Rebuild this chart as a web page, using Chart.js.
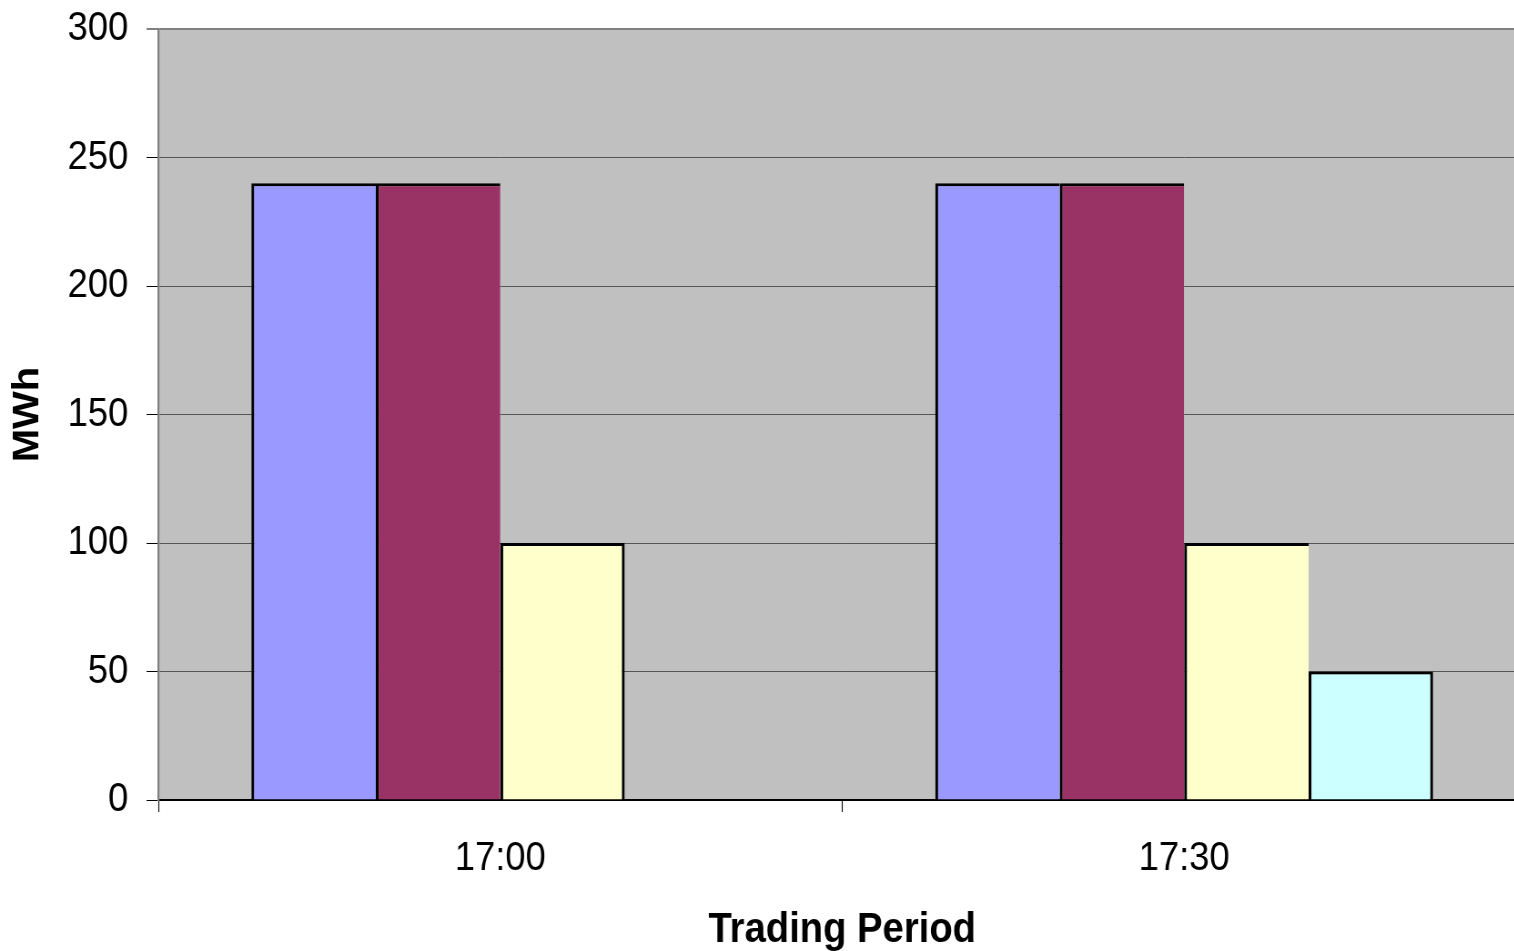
<!DOCTYPE html>
<html>
<head>
<meta charset="utf-8">
<title>MWh by Trading Period</title>
<script src="https://cdn.jsdelivr.net/npm/chart.js@4.4.1/dist/chart.umd.min.js"></script>
<style>
  html, body { margin: 0; padding: 0; background: #ffffff; overflow: hidden; }
  /* the chart is drawn wide and narrowed horizontally, giving the condensed lettering */
  #wrap { width: 1677px; height: 951px; transform: scaleX(0.91); transform-origin: 0 0; }
  canvas { display: block; }
</style>
</head>
<body>
<div id="wrap">
<canvas id="chart" width="1677" height="951" style="width:1677px;height:951px"></canvas>
</div>
<script>
// Trading periods and the four MWh series
const periods = ['17:00', '17:30'];
const series1 = [240, 240];
const series2 = [240, 240];
const series3 = [100, 100];
const series4 = [null, 50];
const yTicks = [0, 50, 100, 150, 200, 250, 300];

const seriesList = [
  { label: 'Series 1', data: series1, color: '#9999FF' },
  { label: 'Series 2', data: series2, color: '#993366' },
  { label: 'Series 3', data: series3, color: '#FFFFCC' },
  { label: 'Series 4', data: series4, color: '#CCFFFF' }
];

// Neighbouring bars share one border: a bar draws its right edge only
// when there is no bar right after it in the same group.
function barBorder(ctx) {
  const next = seriesList[ctx.datasetIndex + 1];
  const hasNext = next && next.data[ctx.dataIndex] != null;
  return { top: 3, left: 3.2, bottom: 0, right: hasNext ? 0 : 3.2 };
}

const plotBackground = {
  id: 'plotBackground',
  beforeDraw(chart) {
    const { ctx, chartArea: a } = chart;
    ctx.save();
    ctx.fillStyle = '#ffffff';
    ctx.fillRect(0, 0, chart.width, chart.height);
    ctx.fillStyle = '#C0C0C0';
    ctx.fillRect(a.left, a.top, a.right - a.left, a.bottom - a.top);
    ctx.restore();
  }
};

const fontFamily = '"Liberation Sans", Arial, sans-serif';
const tickFont = { family: fontFamily, size: 40 };

new Chart(document.getElementById('chart'), {
  type: 'bar',
  data: {
    labels: periods,
    datasets: seriesList.map(s => ({
      label: s.label,
      data: s.data,
      backgroundColor: s.color,
      borderColor: '#000000',
      borderWidth: barBorder,
      borderSkipped: false,
      inflateAmount: 0,
      categoryPercentage: 0.728,
      barPercentage: 1.0
    }))
  },
  plugins: [plotBackground],
  options: {
    responsive: false,
    animation: false,
    devicePixelRatio: 1,
    layout: { padding: { top: 29, right: 0, bottom: 0, left: 0 } },
    plugins: {
      legend: { display: false },
      tooltip: { enabled: false }
    },
    scales: {
      x: {
        offset: true,
        grid: {
          offset: true,
          drawOnChartArea: false,
          drawTicks: true,
          tickLength: 12,
          tickColor: '#000000',
          tickWidth: 1.1
        },
        border: { display: true, color: '#000000', width: 2 },
        ticks: { color: '#000000', font: tickFont, padding: 23, maxRotation: 0 },
        title: {
          display: true,
          text: 'Trading Period',
          color: '#000000',
          font: { family: fontFamily, size: 42, weight: 'bold' },
          padding: { top: 0, bottom: -5 }
        },
        afterFit(scale) {
          scale.height = 151;
          scale.paddingLeft = 0;
          scale.paddingRight = 0;
        }
      },
      y: {
        min: 0,
        max: 300,
        afterBuildTicks(scale) { scale.ticks = yTicks.map(v => ({ value: v })); },
        grid: {
          color: ctx => ctx.tick && ctx.tick.value === 300 ? '#808080' : '#555555',
          lineWidth: ctx => ctx.tick && ctx.tick.value === 300 ? 2 : 1,
          tickColor: '#000000',
          tickLength: 13,
          tickWidth: 1
        },
        border: { display: true, color: '#808080', width: 2.2 },
        ticks: { color: '#000000', font: tickFont, padding: 20 },
        title: {
          display: true,
          text: 'MWh',
          color: '#000000',
          font: { family: fontFamily, size: 40, weight: 'bold' },
          padding: { top: 7, bottom: 0 }
        },
        afterFit(scale) {
          scale.width = 174;
          scale.paddingTop = 0;
          scale.paddingBottom = 0;
        }
      }
    }
  }
});
</script>
</body>
</html>
